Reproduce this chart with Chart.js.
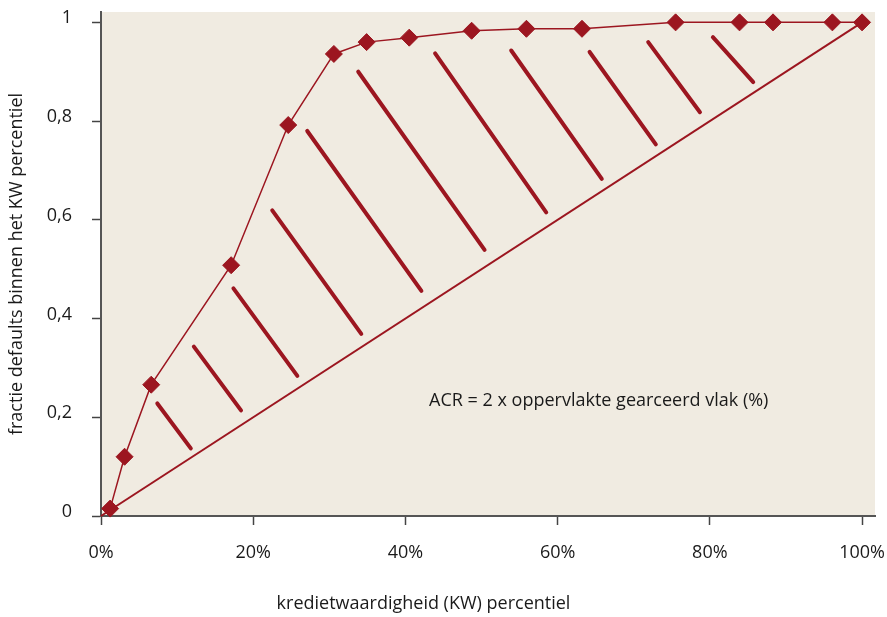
<!DOCTYPE html>
<html>
	<head>
		<meta charset="utf-8">
		<title>ACR - kredietwaardigheid</title>
		<script src="https://cdn.jsdelivr.net/npm/chart.js"></script>
		<style>
			body { margin: 0; background: #fff; }
			#wrap { width: 887px; height: 617px; position: relative; }
		</style>
	</head>
	<body>
		<div id="wrap"><canvas id="acr" aria-label="ACR" role="img"></canvas></div>
		<script type="text/javascript">
			// percentiel kredietwaardigheid (x) en fractie defaults (y)
			const kwPct = [1.2, 3.1, 6.6, 17.1, 24.6, 30.6, 34.9, 40.5, 48.7, 55.9, 63.2, 75.5, 83.9, 88.3, 96.1, 100];
			const defaultFrac = [0.015, 0.12, 0.266, 0.508, 0.792, 0.936, 0.960, 0.969, 0.983, 0.987, 0.987, 1, 1, 1, 1, 1];

			// diagonaal (willekeurig model)
			const diagX = [0, 100];
			const diagY = [0, 1];

			// arcering: begin- en eindpunten van de streepjes
			const hatchX0 = [7.4, 12.2, 17.4, 22.5, 27.1, 33.8, 43.9, 53.9, 64.2, 71.9, 80.4];
			const hatchY0 = [0.228, 0.343, 0.461, 0.619, 0.780, 0.900, 0.937, 0.943, 0.940, 0.960, 0.970];
			const hatchX1 = [11.8, 18.4, 25.8, 34.2, 42.1, 50.4, 58.5, 65.8, 72.9, 78.7, 85.7];
			const hatchY1 = [0.137, 0.214, 0.284, 0.369, 0.456, 0.539, 0.615, 0.683, 0.753, 0.818, 0.879];

			const xTicks = [0, 20, 40, 60, 80, 100];
			const yTicks = [0, 0.2, 0.4, 0.6, 0.8, 1];

			const red = '#9c1620';
			const font = '"Open Sans", "Noto Sans", sans-serif';

			let datasets = [{
				data: kwPct.map((x, i) => ({ x: x, y: defaultFrac[i] })),
				borderColor: red, backgroundColor: red, borderWidth: 1.5,
				pointStyle: 'rectRot', pointRadius: 8.5, pointBorderWidth: 1, clip: false
			}, {
				data: diagX.map((x, i) => ({ x: x, y: diagY[i] })),
				borderColor: red, borderWidth: 2, pointRadius: 0, clip: false
			}];
			for (let i = 0; i < hatchX0.length; i++) {
				datasets.push({
					data: [{ x: hatchX0[i], y: hatchY0[i] }, { x: hatchX1[i], y: hatchY1[i] }],
					borderColor: red, borderWidth: 4, borderCapStyle: 'round', pointRadius: 0
				});
			}

			const bgPlugin = {
				id: 'bg',
				beforeDraw(chart) {
					let a = chart.chartArea, ctx = chart.ctx;
					ctx.save();
					ctx.fillStyle = '#f0ebe1';
					ctx.fillRect(a.left, a.top, a.right - a.left, a.bottom - a.top);
					ctx.restore();
				},
				afterDraw(chart) {
					let ctx = chart.ctx, x = chart.scales.x, y = chart.scales.y;
					ctx.save();
					ctx.fillStyle = '#1a1a1a';
					ctx.font = '18px ' + font;
					ctx.textAlign = 'center';
					ctx.textBaseline = 'middle';
					ctx.fillText('ACR = 2 x oppervlakte gearceerd vlak (%)', x.getPixelForValue(65.4), y.getPixelForValue(0.234));
					ctx.fillText('kredietwaardigheid (KW) percentiel', 423.5, 604);
					ctx.restore();
				}
			};

			new Chart(document.getElementById('acr'), {
				type: 'line',
				data: { datasets: datasets },
				plugins: [bgPlugin],
				options: {
					responsive: true, maintainAspectRatio: false, animation: false,
					layout: { padding: { top: 12, right: 12, left: 0, bottom: 0 } },
					plugins: { legend: { display: false }, tooltip: { enabled: false } },
					scales: {
						x: {
							type: 'linear', min: 0, max: 101.7,
							afterBuildTicks: s => { s.ticks = xTicks.map(v => ({ value: v })) },
							afterFit: s => { s.height = 101; s.paddingLeft = 0; s.paddingRight = 0 },
							grid: { drawOnChartArea: false, drawTicks: true, tickLength: 9, tickColor: '#444', tickWidth: 1.5 },
							border: { display: true, color: '#555', width: 2 },
							ticks: { padding: 17, maxRotation: 0, color: '#1a1a1a', font: { family: font, size: 18 }, callback: v => v + '%' }
						},
						y: {
							type: 'linear', min: 0, max: 1.021,
							afterBuildTicks: s => { s.ticks = yTicks.map(v => ({ value: v })) },
							afterFit: s => { s.width = 101; s.paddingTop = 0; s.paddingBottom = 0 },
							grid: { drawOnChartArea: false, drawTicks: true, tickLength: 9, tickColor: '#444', tickWidth: 1.5 },
							border: { display: true, color: '#555', width: 2 },
							ticks: { padding: 20, labelOffset: -4, color: '#1a1a1a', font: { family: font, size: 18 },
								callback: v => (v === 0 || v === 1) ? String(v) : v.toFixed(1).replace('.', ',') },
							title: { display: true, text: 'fractie defaults binnen het KW percentiel', color: '#1a1a1a',
								font: { family: font, size: 18 }, padding: { top: 6 } }
						}
					}
				}
			});
		</script>
	</body>
</html>
